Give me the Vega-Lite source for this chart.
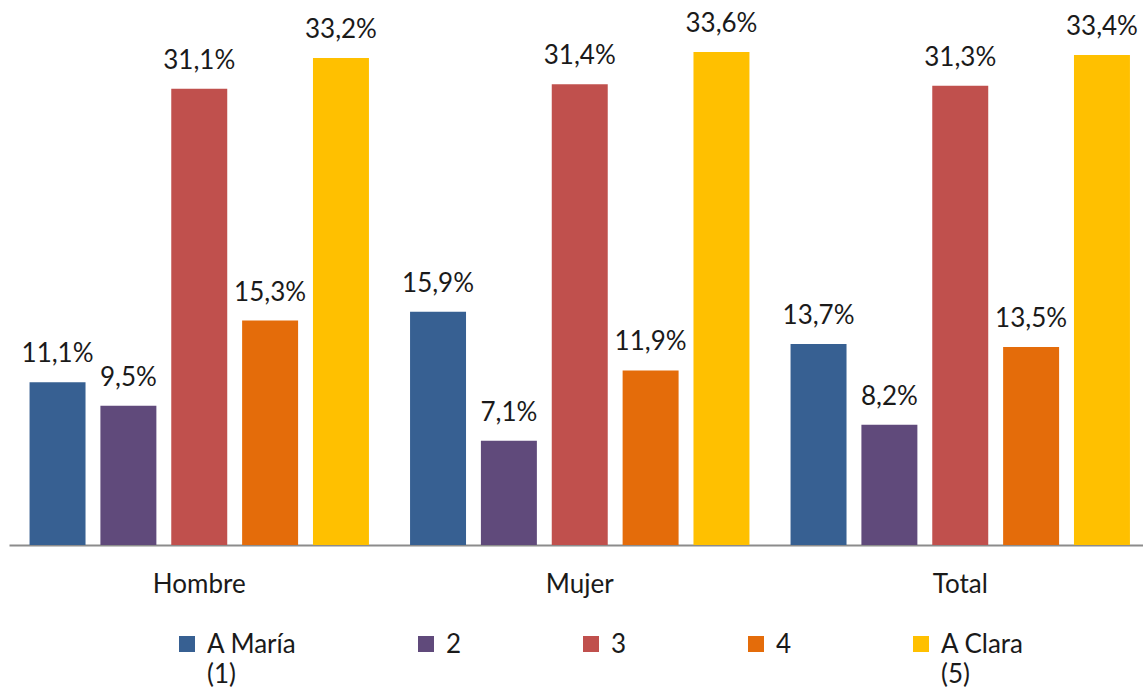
{
  "$schema": "https://vega.github.io/schema/vega-lite/v6.json",
  "width": 1134,
  "height": 545,
  "autosize": {"type": "none"},
  "padding": {"left": 9, "top": 0, "right": 0, "bottom": 147},
  "config": {
    "view": {"stroke": null},
    "font": "Lato",
    "locale": {"number": {"decimal": ",", "thousands": ".", "grouping": [3], "currency": ["", " €"]}}
  },
  "data": {
    "values": [
      {"grupo": "Hombre", "serie": "A María (1)", "valor": 0.111},
      {"grupo": "Hombre", "serie": "2", "valor": 0.095},
      {"grupo": "Hombre", "serie": "3", "valor": 0.311},
      {"grupo": "Hombre", "serie": "4", "valor": 0.153},
      {"grupo": "Hombre", "serie": "A Clara (5)", "valor": 0.332},
      {"grupo": "Mujer", "serie": "A María (1)", "valor": 0.159},
      {"grupo": "Mujer", "serie": "2", "valor": 0.071},
      {"grupo": "Mujer", "serie": "3", "valor": 0.314},
      {"grupo": "Mujer", "serie": "4", "valor": 0.119},
      {"grupo": "Mujer", "serie": "A Clara (5)", "valor": 0.336},
      {"grupo": "Total", "serie": "A María (1)", "valor": 0.137},
      {"grupo": "Total", "serie": "2", "valor": 0.082},
      {"grupo": "Total", "serie": "3", "valor": 0.313},
      {"grupo": "Total", "serie": "4", "valor": 0.135},
      {"grupo": "Total", "serie": "A Clara (5)", "valor": 0.334}
    ]
  },
  "encoding": {
    "x": {
      "field": "grupo", "type": "nominal", "sort": ["Hombre", "Mujer", "Total"],
      "scale": {"range": [0, 1141.5], "paddingInner": 0, "paddingOuter": 0},
      "axis": {
        "title": null, "labelAngle": 0, "ticks": false, "grid": false,
        "labelFontSize": 26, "labelColor": "#1a1a1a", "labelBaseline": "alphabetic",
        "labelPadding": 47, "domainColor": "#8c8c8c", "domainWidth": 2
      }
    },
    "xOffset": {
      "field": "serie", "type": "nominal",
      "sort": ["A María (1)", "2", "3", "4", "A Clara (5)"],
      "scale": {"paddingInner": 0.21, "paddingOuter": 0.29}
    },
    "y": {
      "field": "valor", "type": "quantitative",
      "scale": {"domain": [0, 0.3715], "nice": false}, "axis": null
    }
  },
  "layer": [
    {
      "mark": {"type": "bar"},
      "encoding": {
        "color": {
          "field": "serie", "type": "nominal",
          "sort": ["A María (1)", "2", "3", "4", "A Clara (5)"],
          "scale": {"range": ["#376092", "#604A7B", "#C0504D", "#E46C0A", "#FFC000"]},
          "legend": {
            "orient": "none", "legendX": 165, "legendY": 640,
            "direction": "horizontal", "columns": 5, "title": null,
            "symbolType": "M-1,-2.125H1V-0.125H-1Z", "symbolSize": 256, "symbolStrokeWidth": 0,
            "labelFontSize": 26, "labelColor": "#1a1a1a", "labelOffset": 7,
            "columnPadding": 116, "labelLimit": 0, "padding": 0,
            "labelBaseline": "alphabetic",
            "labelExpr": "indexof(datum.label, '(') > 0 ? [substring(datum.label, 0, indexof(datum.label, '(') - 1), substring(datum.label, indexof(datum.label, '('))] : [datum.label, ' ']",
            "encode": {"labels": {"update": {"lineHeight": {"value": 30}}}}
          }
        }
      }
    },
    {
      "mark": {"type": "text", "fontSize": 26, "baseline": "alphabetic", "dy": -20, "color": "#1a1a1a"},
      "encoding": {
        "text": {"field": "valor", "type": "quantitative", "format": ".1%"}
      }
    }
  ]
}
